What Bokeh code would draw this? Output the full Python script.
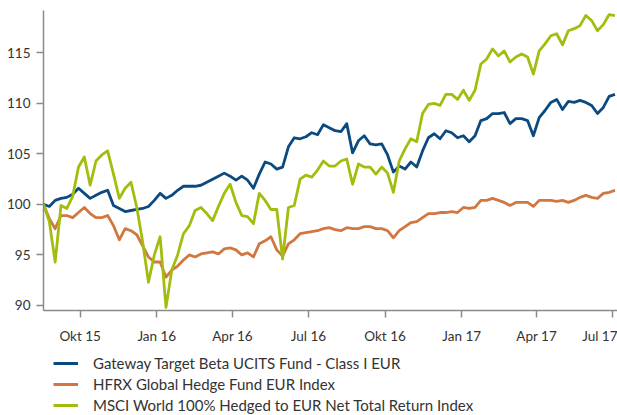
import pandas as pd
from bokeh.plotting import figure
from bokeh.layouts import column
from bokeh.models import FixedTicker, Legend, LegendItem, Range1d
from bokeh.embed import file_html
from bokeh.resources import INLINE

# ---- data (weekly readings) ----
dates = pd.date_range("2015-08-18", periods=99, freq="7D")

gateway = [100.0, 99.8, 100.4, 100.6, 100.7, 101.0, 101.6, 101.1, 100.6, 100.9,
           101.2, 101.4, 99.9, 99.6, 99.3, 99.4, 99.5, 99.6, 99.8, 100.4,
           101.1, 100.6, 100.9, 101.4, 101.8, 101.8, 101.8, 101.9, 102.2, 102.5,
           102.8, 103.1, 102.8, 102.4, 102.8, 102.4, 101.6, 103.0, 104.2, 104.0,
           103.5, 103.7, 105.7, 106.6, 106.5, 106.7, 107.1, 106.9, 107.9, 107.6,
           107.3, 107.2, 108.0, 105.1, 106.3, 106.8, 106.0, 105.9, 106.0, 104.9,
           103.2, 103.8, 103.5, 104.2, 103.7, 105.3, 106.6, 107.0, 106.5, 107.3,
           107.1, 106.6, 106.8, 106.2, 106.8, 108.3, 108.5, 109.0, 109.0, 109.1,
           108.0, 108.5, 108.5, 108.3, 106.8, 108.6, 109.3, 110.1, 110.4, 109.4,
           110.2, 110.1, 110.3, 110.1, 109.8, 109.0, 109.6, 110.7, 110.9]

hfrx = [100.0, 98.6, 97.6, 98.9, 98.9, 98.7, 99.2, 99.7, 99.1, 98.7,
        98.7, 98.9, 97.9, 96.5, 97.6, 97.4, 97.0, 95.9, 94.8, 94.3,
        94.3, 92.8, 93.5, 93.9, 94.5, 95.0, 94.8, 95.1, 95.2, 95.3,
        95.1, 95.6, 95.7, 95.5, 95.0, 95.2, 94.8, 96.1, 96.4, 96.8,
        95.5, 94.9, 96.1, 96.5, 97.1, 97.2, 97.3, 97.4, 97.6, 97.7,
        97.5, 97.4, 97.7, 97.6, 97.6, 97.8, 97.8, 97.6, 97.6, 97.4,
        96.7, 97.4, 97.8, 98.2, 98.3, 98.7, 99.1, 99.1, 99.2, 99.2,
        99.3, 99.2, 99.7, 99.6, 99.7, 100.4, 100.4, 100.6, 100.4, 100.2,
        99.9, 100.2, 100.2, 100.2, 99.8, 100.4, 100.4, 100.4, 100.3, 100.4,
        100.2, 100.4, 100.7, 100.9, 100.7, 100.6, 101.1, 101.2, 101.4]

msci = [100.0, 98.3, 94.3, 99.9, 99.6, 100.8, 103.7, 104.7, 101.9, 104.3,
        104.9, 105.3, 103.0, 100.6, 101.6, 102.2, 99.7, 96.3, 92.3, 95.0,
        96.8, 89.8, 93.5, 95.0, 97.1, 97.9, 99.4, 99.7, 99.1, 98.4,
        99.8, 101.1, 102.0, 100.2, 98.9, 98.8, 98.1, 101.1, 100.4, 99.5,
        99.5, 94.6, 99.7, 99.9, 102.5, 102.9, 102.7, 103.4, 104.3, 103.8,
        103.8, 104.3, 104.5, 102.0, 104.0, 103.7, 103.7, 103.0, 103.7, 103.1,
        101.2, 104.3, 105.5, 106.5, 106.2, 109.0, 109.9, 110.0, 109.8, 110.9,
        110.9, 110.4, 111.3, 110.3, 111.3, 113.9, 114.4, 115.4, 114.7, 115.2,
        114.1, 114.6, 114.9, 114.6, 112.9, 115.2, 115.9, 116.7, 116.9, 115.8,
        117.2, 117.4, 117.7, 118.7, 118.2, 117.2, 117.8, 118.8, 118.7]

series_names = ["Gateway Target Beta UCITS Fund - Class I EUR",
                "HFRX Global Hedge Fund EUR Index",
                "MSCI World 100% Hedged to EUR Net Total Return Index"]
series_colors = ["#0b4a80", "#d2773f", "#a3bd0e"]

tick_dates = ["2015-10-01", "2016-01-01", "2016-04-01", "2016-07-01",
              "2016-10-01", "2017-01-01", "2017-04-01", "2017-07-01"]
tick_labels = ["Okt 15", "Jan 16", "Apr 16", "Jul 16",
               "Okt 16", "Jan 17", "Apr 17", "Jul 17"]
y_ticks = [90, 95, 100, 105, 110, 115]

# ---- main chart ----
epoch = pd.Timestamp("1970-01-01")
def to_ms(d):
    return float((pd.Timestamp(d) - epoch) // pd.Timedelta("1ms"))

p = figure(width=617, height=346, x_axis_type="datetime",
           output_backend="svg", toolbar_location=None,
           x_range=Range1d(to_ms("2015-08-18"), to_ms("2017-07-07")),
           y_range=Range1d(89.5, 119.2),
           min_border_left=43, min_border_top=10, min_border_right=0,
           min_border_bottom=36)
p.outline_line_color = None
p.xgrid.visible = False
p.ygrid.visible = False
p.background_fill_color = "white"
p.border_fill_color = "white"

for vals, col in zip([gateway, hfrx, msci], series_colors):
    p.line(dates, vals, line_color=col, line_width=2.8, line_join="round")

tick_ms = [to_ms(d) for d in tick_dates]
p.xaxis.ticker = FixedTicker(ticks=tick_ms)
p.xaxis.major_label_overrides = {t: l for t, l in zip(tick_ms, tick_labels)}
p.yaxis.ticker = FixedTicker(ticks=y_ticks)

for ax in (p.xaxis, p.yaxis):
    ax.axis_line_color = "#8a8a8a"
    ax.axis_line_width = 1.5
    ax.major_tick_line_color = "#8a8a8a"
    ax.major_tick_line_width = 1.5
    ax.major_tick_in = 0
    ax.major_tick_out = 7
    ax.minor_tick_line_color = None
    ax.major_label_text_font = "Lato"
    ax.major_label_text_font_size = "13.5px"
    ax.major_label_text_color = "#333333"
p.xaxis.major_label_standoff = 10
p.yaxis.major_label_standoff = 6

# ---- legend panel ----
lg = figure(width=617, height=69, output_backend="svg", toolbar_location=None,
            x_range=Range1d(0, 1), y_range=Range1d(0, 1),
            x_axis_location=None, y_axis_location=None,
            min_border_left=0, min_border_right=0, min_border_top=0,
            min_border_bottom=0)
lg.xgrid.visible = False
lg.ygrid.visible = False
lg.outline_line_color = None
lg.background_fill_color = "white"
lg.border_fill_color = "white"

# legend-only renderers (a single undrawn NaN row each)
dummies = [lg.line(x=[0.0], y=[float("nan")], line_color=col, line_width=3)
           for col in series_colors]
legend = Legend(items=[LegendItem(label=n, renderers=[r]) for n, r in zip(series_names, dummies)],
                location=(10, 0), orientation="vertical")
legend.label_text_font = "Lato"
legend.label_text_font_size = "15px"
legend.label_text_color = "#333333"
legend.glyph_width = 25
legend.glyph_height = 20
legend.label_height = 20
legend.label_standoff = 15
legend.spacing = 1
legend.padding = 0
legend.margin = 0
legend.border_line_color = None
legend.background_fill_alpha = 0
lg.add_layout(legend)

layout = column(p, lg, spacing=0)
html = file_html(layout, INLINE)
open("out.html", "w").write(html)
